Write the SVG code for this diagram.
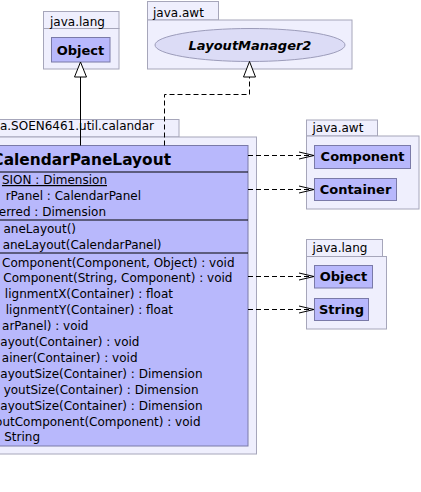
<svg xmlns="http://www.w3.org/2000/svg" width="421" height="492" viewBox="0 0 421 492">
<style>
.pkg{fill:#efeffd;stroke:#a6a6ba;stroke-width:1}
.cls{fill:#b8b8fc;stroke:#7a7aa8;stroke-width:1}
.ell{fill:#dcdcf6;stroke:#9c9cba;stroke-width:1}
.sep{stroke:#000;stroke-width:1}
.plabel{font-family:"DejaVu Sans",sans-serif;font-size:12px;fill:#000}
.cname{font-family:"DejaVu Sans",sans-serif;font-size:13px;font-weight:bold;fill:#000;text-anchor:middle}
.mem{font-family:"DejaVu Sans",sans-serif;font-size:12px;fill:#000;text-anchor:end}
.edge{fill:none;stroke:#000;stroke-width:1}
.dash{stroke-dasharray:5,3}
.tri{fill:#fff;stroke:#000;stroke-width:1}
</style>
<rect width="421" height="492" fill="#fff"/>
<g id="pkg-java-lang-top">
<rect class="pkg" x="43.5" y="11.5" width="75.5" height="17"/>
<rect class="pkg" x="43.5" y="28.5" width="75.5" height="40.5"/>
<text class="plabel" x="50" y="25.5">java.lang</text>
<g id="node-Object-top">
<rect class="cls" x="51.5" y="37.5" width="58.5" height="24.5"/>
<text class="cname" x="80.5" y="54.5">Object</text>
</g>
</g>
<g id="pkg-java-awt-top">
<rect class="pkg" x="147.5" y="1.5" width="71" height="18.5"/>
<rect class="pkg" x="147.5" y="20" width="204.5" height="49"/>
<text class="plabel" x="153" y="16.5">java.awt</text>
<g id="node-LayoutManager2">
<ellipse class="ell" cx="250" cy="45" rx="95" ry="16.5"/>
<text class="cname" x="250" y="50" font-style="italic">LayoutManager2</text>
</g>
</g>
<g id="pkg-calandar">
<rect class="pkg" x="-2" y="119.5" width="181" height="17.5"/>
<rect class="pkg" x="-2" y="137" width="258.5" height="317"/>
<text class="plabel" x="154" y="130" text-anchor="end">a.SOEN6461.util.calandar</text>
<g id="node-CalendarPaneLayout">
<rect class="cls" x="-2" y="145.5" width="250" height="300.5"/>
<text font-family="DejaVu Sans, sans-serif" font-size="15.4" font-weight="bold" x="171" y="165" text-anchor="end">CalendarPaneLayout</text>
<line class="sep" x1="-2" y1="172" x2="248" y2="172"/>
<text class="mem" x="107" y="184" text-decoration="underline">SION : Dimension</text>
<text class="mem" x="141" y="200">rPanel : CalendarPanel</text>
<text class="mem" x="106" y="216">erred : Dimension</text>
<line class="sep" x1="-2" y1="220" x2="248" y2="220"/>
<text class="mem" x="76" y="233">aneLayout()</text>
<text class="mem" x="161.5" y="249">aneLayout(CalendarPanel)</text>
<line class="sep" x1="-2" y1="253" x2="248" y2="253"/>
<text class="mem" x="234.5" y="266.5">Component(Component, Object) : void</text>
<text class="mem" x="232.5" y="282.4">Component(String, Component) : void</text>
<text class="mem" x="173" y="298.3">lignmentX(Container) : float</text>
<text class="mem" x="173" y="314.2">lignmentY(Container) : float</text>
<text class="mem" x="88.5" y="330.1">arPanel) : void</text>
<text class="mem" x="139.5" y="346">ayout(Container) : void</text>
<text class="mem" x="137.5" y="361.9">ainer(Container) : void</text>
<text class="mem" x="202.5" y="377.8">ayoutSize(Container) : Dimension</text>
<text class="mem" x="198.5" y="393.7">youtSize(Container) : Dimension</text>
<text class="mem" x="202.5" y="409.6">ayoutSize(Container) : Dimension</text>
<text class="mem" x="200.5" y="425.5">outComponent(Component) : void</text>
<text class="mem" x="40" y="441.4">String</text>
</g>
</g>
<g id="pkg-java-awt-right">
<rect class="pkg" x="306.5" y="120" width="71" height="16"/>
<rect class="pkg" x="306.5" y="136" width="112.5" height="73"/>
<text class="plabel" x="312.5" y="131.5">java.awt</text>
<g id="node-Component">
<rect class="cls" x="314.5" y="145.5" width="96" height="23"/>
<text class="cname" x="362.5" y="161">Component</text>
</g>
<g id="node-Container">
<rect class="cls" x="314.5" y="178.5" width="82" height="22"/>
<text class="cname" x="355.5" y="194">Container</text>
</g>
</g>
<g id="pkg-java-lang-right">
<rect class="pkg" x="306.5" y="239.5" width="76" height="17"/>
<rect class="pkg" x="306.5" y="256.5" width="80" height="72.5"/>
<text class="plabel" x="312.5" y="251.5">java.lang</text>
<g id="node-Object-right">
<rect class="cls" x="314.5" y="265.5" width="58" height="22.5"/>
<text class="cname" x="343.5" y="281">Object</text>
</g>
<g id="node-String">
<rect class="cls" x="314.5" y="298.5" width="54" height="22"/>
<text class="cname" x="341.5" y="314">String</text>
</g>
</g>
<g id="connectors">
<path class="edge" d="M80.5,145.5 V77"/>
<path class="tri" d="M80.5,62 L86.5,77 L74.5,77 Z"/>
<path class="edge dash" d="M164.5,145.5 V94.5 H249.5 V77"/>
<path class="tri" d="M249.5,61.5 L255.5,77 L243.5,77 Z"/>
<path class="edge dash" d="M248,155.5 H313"/>
<path class="edge" d="M299,152 L314,155.5 L299,159"/>
<path class="edge dash" d="M248,189.5 H313"/>
<path class="edge" d="M299,186 L314,189.5 L299,193"/>
<path class="edge dash" d="M248,276.5 H313"/>
<path class="edge" d="M299,273 L314,276.5 L299,280"/>
<path class="edge dash" d="M248,309.5 H313"/>
<path class="edge" d="M299,306 L314,309.5 L299,313"/>
</g>
</svg>
